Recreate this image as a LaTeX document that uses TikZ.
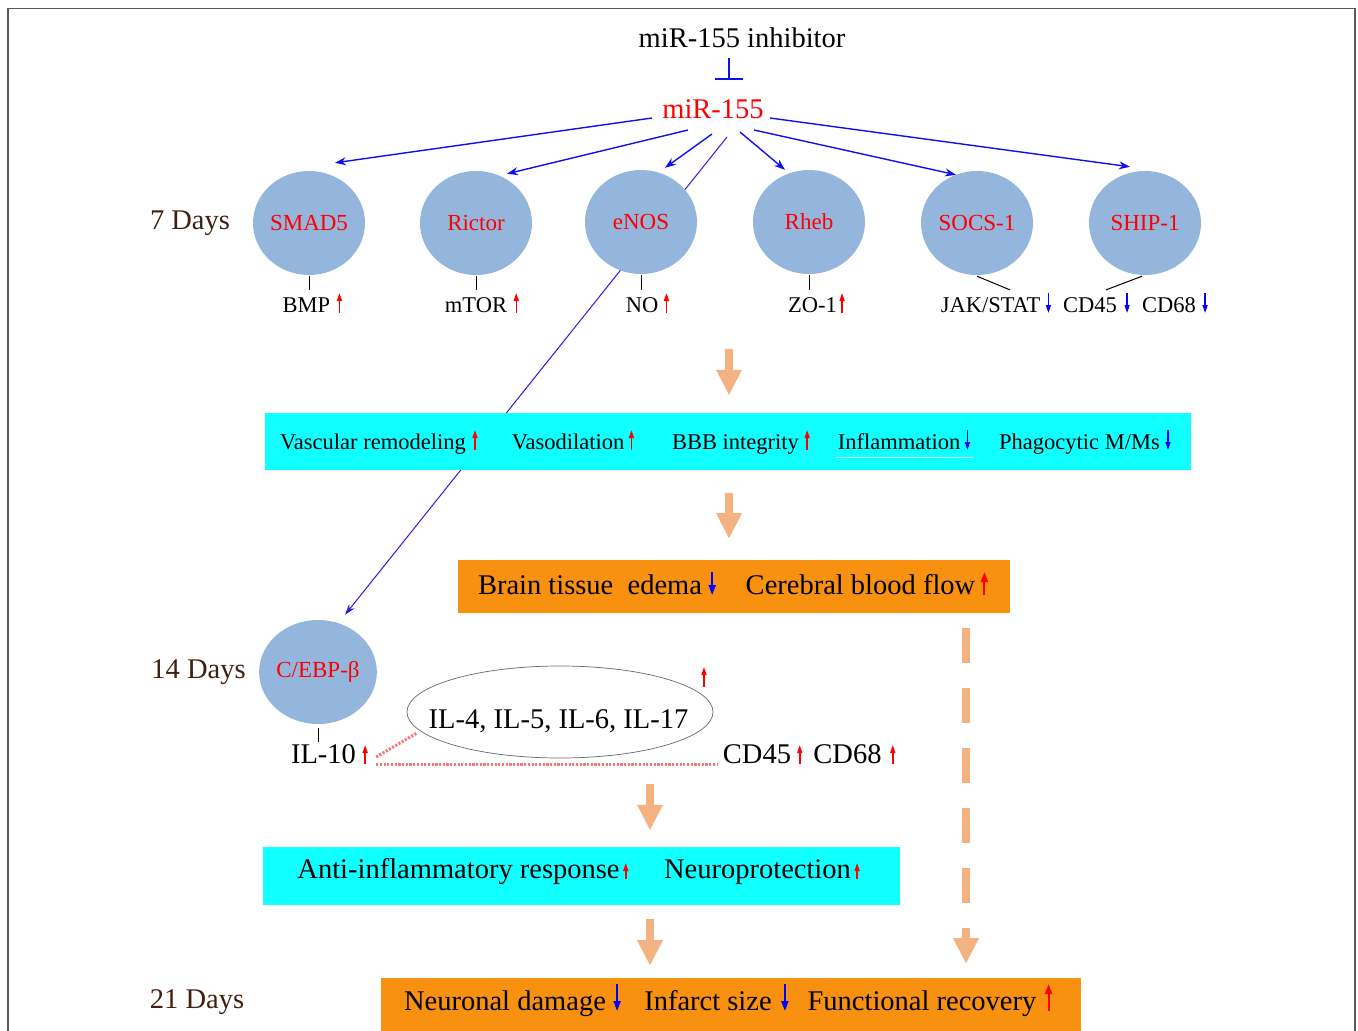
\documentclass[tikz,border=0pt]{standalone}
\usepackage{fontspec}
\setmainfont{Liberation Serif}
\usetikzlibrary{arrows.meta,shapes.geometric,backgrounds}
\definecolor{cellblue}{RGB}{148,182,221}
\definecolor{boxcyan}{RGB}{16,255,255}
\definecolor{boxorange}{RGB}{247,145,15}
\definecolor{salmon}{RGB}{244,178,130}
\definecolor{dotpink}{RGB}{245,120,120}
\definecolor{daybrown}{RGB}{64,32,16}
\definecolor{linkblue}{RGB}{15,15,245}
\definecolor{longblue}{RGB}{45,25,230}
\definecolor{framegray}{RGB}{90,90,90}
\definecolor{paleline}{RGB}{200,250,250}
\newcommand\myup[4]{\draw[#1] ([shift={(#3,1)}]#2.base east) -- ++(0,-#4);}
\newcommand\mydown[4]{\draw[#1] ([shift={(#3,1-#4)}]#2.base east) -- ++(0,#4);}
\begin{document}
\begin{tikzpicture}[x=1pt,y=-1pt,
  bigtext/.style={font=\fontsize{28.5}{32}\selectfont, inner sep=1pt, anchor=base},
  smalltext/.style={font=\fontsize{22.5}{26}\selectfont, inner sep=1pt, anchor=base},
  daytext/.style={bigtext, text=daybrown},
  mircell/.style={ellipse, fill=cellblue, minimum width=112pt, minimum height=104pt, inner sep=0pt, text=red, font=\fontsize{23}{26}\selectfont},
  mirlink/.style={draw=linkblue, line width=1.4pt, -{Stealth[length=11pt,width=8pt]}},
  longlink/.style={draw=longblue, line width=1pt, -{Stealth[length=11pt,width=7pt]}},
  inhib/.style={draw=linkblue, line width=1.5pt, -{Bar[width=28pt,line width=2.5pt]}},
  tickline/.style={draw=black, line width=1pt},
  upR/.style={draw=red, line width=1.5pt, -{Triangle[length=8pt,width=5pt]}},
  dnB/.style={draw=blue, line width=1.5pt, -{Triangle[length=8pt,width=5pt]}},
  bigupR/.style={draw=red, line width=2pt, -{Triangle[length=10pt,width=7pt]}},
  bigdnB/.style={draw=blue, line width=2pt, -{Triangle[length=10pt,width=7pt]}},
  boxband/.style={rectangle, inner sep=0pt},
  blockarr/.style={draw=salmon, line width=8.5pt, -{Triangle[length=25pt,width=26pt,line width=0pt]}},
  dotlink/.style={draw=dotpink, line width=3pt, dash pattern=on 2.2pt off 1.5pt},
]
\useasboundingbox (0,0) rectangle (1358,1031);
% frame
\draw[framegray, line width=1.6pt] (8,1045) -- (8,8.5) -- (1355,8.5) -- (1355,1045);

% top
\node[bigtext] (inh) at (742,47) {miR-155 inhibitor};
\node[bigtext, text=red] (mir) at (713,118) {miR-155};

% 7 days cells
\node[mircell] (smad) at (309,223) {SMAD5};
\node[mircell] (rictor) at (476,223) {Rictor};
\node[mircell] (enos) at (641,222) {eNOS};
\node[mircell] (rheb) at (809,222) {Rheb};
\node[mircell] (socs) at (977,223) {SOCS-1};
\node[mircell] (ship) at (1145,223) {SHIP-1};
\node[mircell] (cebp) at (318,672) {C/EBP-β};

% day labels
\node[daytext] (d7) at (190,229) {7 Days};
\node[daytext] (d14) at (198.5,678) {14 Days};
\node[daytext] (d21) at (197,1008) {21 Days};

% row 1 labels
\node[smalltext] (bmp) at (306.5,312) {BMP};
\node[smalltext] (mtor) at (476,312) {mTOR};
\node[smalltext] (no) at (642,312) {NO};
\node[smalltext] (zo) at (812.5,312) {ZO-1};
\node[smalltext] (jak) at (990.5,312) {JAK/STAT};
\node[smalltext] (cd45a) at (1090,312) {CD45};
\node[smalltext] (cd68a) at (1169,312) {CD68};

% boxes
\node[boxband, fill=boxcyan, minimum width=926pt, minimum height=57pt] (cyan1) at (728,441.5) {};
\node[boxband, fill=boxorange, minimum width=552pt, minimum height=53pt] (orange1) at (734,586.5) {};
\node[boxband, fill=boxcyan, minimum width=637pt, minimum height=58pt] (cyan2) at (581.5,876) {};
\node[boxband, fill=boxorange, minimum width=700pt, minimum height=62pt] (orange2) at (731,1009) {};

% cyan box 1 texts
\node[smalltext] (vasc) at (373,449) {Vascular remodeling};
\node[smalltext] (vaso) at (568,449) {Vasodilation};
\node[smalltext] (bbb) at (735.5,449) {BBB integrity};
\node[smalltext] (infl) at (899,449) {Inflammation};
\node[smalltext] (phago) at (1079.5,449) {Phagocytic M/Ms};
\draw[draw=paleline, line width=1pt] ([shift={(-1,8)}]infl.base west) -- ([shift={(12,8)}]infl.base east);

% orange box 1 texts
\node[bigtext] (brain) at (590,594) {Brain tissue~ edema};
\node[bigtext] (cereb) at (860.5,594) {Cerebral blood flow};

% 14 days
\node[bigtext] (il10) at (323.5,763) {IL-10};
\node[draw=black!60, line width=0.7pt, ellipse, minimum width=306pt, minimum height=92pt, inner sep=0pt] (ilell) at (560,712) {};
\node[bigtext] (iltxt) at (558.5,728) {IL-4, IL-5, IL-6, IL-17};
\node[bigtext] (cd45b) at (757,763) {CD45};
\node[bigtext] (cd68b) at (847.5,763) {CD68};

% cyan box 2 texts
\node[bigtext] (anti) at (458.5,878) {Anti-inflammatory response};
\node[bigtext] (neuro) at (757.5,878) {Neuroprotection};

% orange box 2 texts
\node[bigtext] (neur) at (505,1010) {Neuronal damage};
\node[bigtext] (infarct) at (708,1010) {Infarct size};
\node[bigtext] (func) at (922,1010) {Functional recovery};

% long line behind cells and box
\begin{scope}[on background layer]
\draw[longlink] ([shift={(14,19)}]mir.base) -- ([shift={(27,-5)}]cebp.north);
\end{scope}

% inhibition
\draw[inhib] ([shift={(-13,11)}]inh.base) -- ([shift={(16,-38)}]mir.base);

% miR-155 links
\draw[mirlink] ([shift={(-61,0)}]mir.base) -- ([shift={(26,-8)}]smad.north);
\draw[mirlink] ([shift={(-25,12)}]mir.base) -- ([shift={(31,3)}]rictor.north);
\draw[mirlink] ([shift={(-1,16)}]mir.base) -- ([shift={(24,-2)}]enos.north);
\draw[mirlink] ([shift={(27,14)}]mir.base) -- ([shift={(-24,0)}]rheb.north);
\draw[mirlink] ([shift={(41,12)}]mir.base) -- ([shift={(-21,4)}]socs.north);
\draw[mirlink] ([shift={(57,0)}]mir.base) -- ([shift={(-15,-4)}]ship.north);

% ticks
\draw[tickline] ([shift={(0,1)}]smad.south) -- ([shift={(0,-6)}]smad.south |- bmp.north);
\draw[tickline] ([shift={(0,1)}]rictor.south) -- ([shift={(0,-6)}]rictor.south |- mtor.north);
\draw[tickline] ([shift={(0,1)}]enos.south) -- ([shift={(0,-6)}]enos.south |- no.north);
\draw[tickline] ([shift={(0,1)}]rheb.south) -- ([shift={(0,-6)}]rheb.south |- zo.north);
\draw[tickline] ([shift={(0,1)}]socs.south) -- ([shift={(19.5,-6)}]jak.north);
\draw[tickline] ([shift={(-3,1)}]ship.south) -- ([shift={(16,-6)}]cd45a.north);
\draw[tickline] ([shift={(0,4)}]cebp.south) -- ([shift={(0,-1)}]cebp.south |- il10.north);

% small marks row 1
\myup{upR}{bmp}{8}{20}
\myup{upR}{mtor}{8}{20}
\myup{upR}{no}{7}{20}
\myup{upR}{zo}{4}{20}
\mydown{dnB}{jak}{7}{20}
\mydown{dnB}{cd45a}{9}{20}
\mydown{dnB}{cd68a}{8}{20}

% cyan box 1 marks
\myup{upR}{vasc}{8}{20}
\myup{upR}{vaso}{6}{20}
\myup{upR}{bbb}{7}{20}
\mydown{dnB}{infl}{6}{20}
\mydown{dnB}{phago}{7}{20}

% orange box 1 marks
\mydown{bigdnB}{brain}{9}{23}
\myup{bigupR}{cereb}{8}{23}

% 14 days marks
\myup{upR}{il10}{8}{19}
\myup{upR}{cd45b}{7.5}{19}
\myup{upR}{cd68b}{10}{19}
\draw[upR] ([shift={(144,-25)}]ilell.center) -- ++(0,-20);

% dotted links
\draw[dotlink] ([shift={(19,-6)}]il10.base east) -- ([shift={(-143,21)}]ilell.center);
\draw[dotlink] ([shift={(19,1)}]il10.base east) -- ([shift={(-5,1)}]cd45b.base west);

% cyan box 2 marks
\myup{upR}{anti}{5}{16}
\myup{upR}{neuro}{5}{16}

% orange box 2 marks
\mydown{bigdnB}{neur}{10}{27}
\mydown{bigdnB}{infarct}{12}{27}
\myup{bigupR}{func}{11}{27}

% block arrows
\draw[blockarr] ([shift={(1,-64)}]cyan1.north) -- ([shift={(1,-18)}]cyan1.north);
\draw[blockarr] ([shift={(1,23)}]cyan1.south) -- ([shift={(1,68)}]cyan1.south);
\draw[blockarr] ([shift={(68.5,-63)}]cyan2.north) -- ([shift={(68.5,-17)}]cyan2.north);
\draw[blockarr] ([shift={(68.5,14)}]cyan2.south) -- ([shift={(68.5,60)}]cyan2.south);
\draw[blockarr, dash pattern=on 35pt off 25pt] ([shift={(232,15)}]orange1.south) -- ([shift={(232,350)}]orange1.south);
\end{tikzpicture}
\end{document}
